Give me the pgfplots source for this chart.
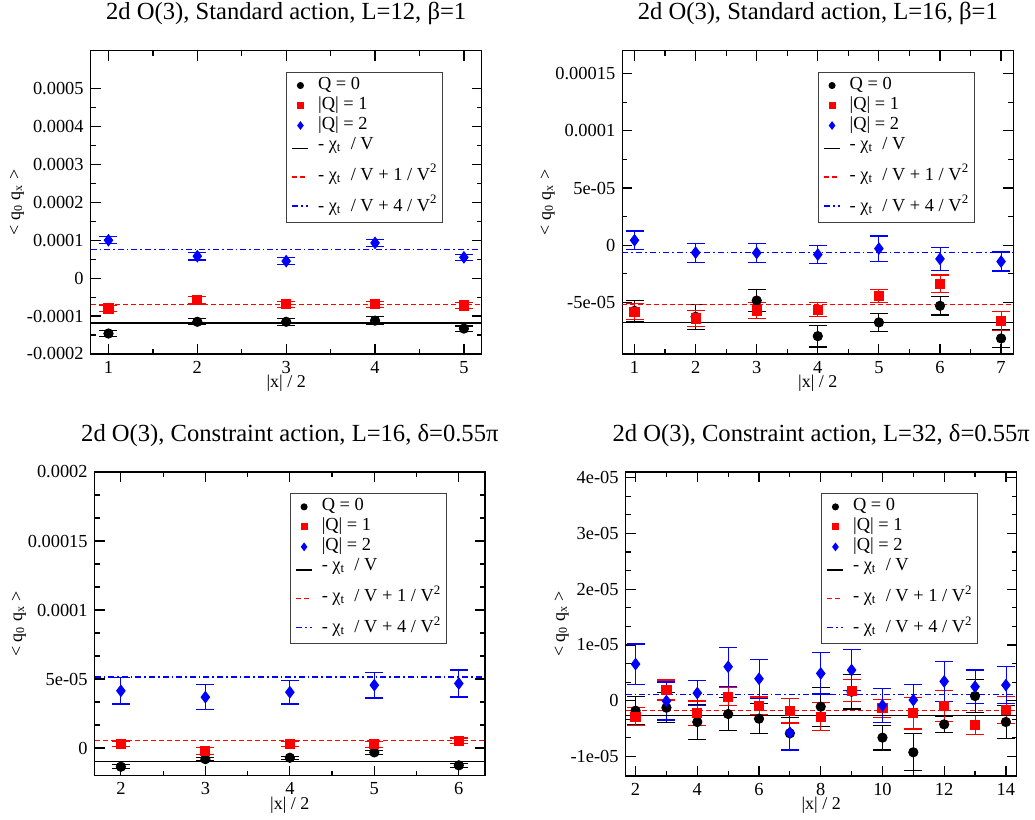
\documentclass[border=0pt]{standalone}
\usepackage{fontspec}
\setmainfont{Liberation Serif}
\usepackage{pgfplots}
\pgfplotsset{compat=1.18}

\newcommand{\ylab}{< q\textsubscript{0} q\textsubscript{x} >}
\newcommand{\chit}{- χ\textsubscript{t}\ \ / V}

\pgfplotsset{
 myaxis/.style={
  scale only axis,
  axis line style={line width=0.75pt},
  every tick/.style={black, line width=0.6pt},
  major tick length=5pt, minor tick length=2.5pt,
  tick align=inside,
  /pgf/number format/assume math mode=true,
  tick label style={font=\fontsize{9.2}{11}\selectfont},
  label style={font=\fontsize{9}{11}\selectfont},
  every axis title/.style={font=\fontsize{12.3}{14}\selectfont, at={(0.5,1)}, anchor=base, yshift=15.5pt},
  xlabel={|x| / 2},
  xlabel style={at={(0.5,0)}, anchor=base, yshift=-16.8pt},
  ylabel={\ylab},
  scaled ticks=false,
  minor x tick num=1,
  legend style={at={(0.5,0.93)}, anchor=north west, draw=black!75, line width=0.6pt,
    font=\fontsize{9.2}{11}\selectfont, inner xsep=2.5pt, inner ysep=1.5pt,
    nodes={inner sep=0pt, text depth={}}, row sep=0pt,
    /tikz/every odd column/.append style={column sep=4.5pt}},
  legend cell align=left,
 },
 mk/.style={only marks, line width=0.5pt,
   error bars/.cd, y dir=both, y explicit,
   error mark options={rotate=90, mark size=4.5pt, line width=0.6pt},
   /pgfplots/.cd},
 q0/.style={mk, black, mark=*, mark size=2.3pt,
   legend image code/.code={\draw[mark repeat=2,mark phase=2,##1, mark size=1.5pt] plot coordinates {(0pt,0pt)(4pt,0pt)(8pt,0pt)};}},
 q1/.style={mk, red, mark=square*, mark size=2.3pt,
   legend image code/.code={\draw[mark repeat=2,mark phase=2,##1, mark size=1.5pt] plot coordinates {(0pt,0pt)(4pt,0pt)(8pt,0pt)};}},
 q2/.style={mk, blue, mark=diamond*, mark size=2.8pt,
   legend image code/.code={\draw[mark repeat=2,mark phase=2,##1, mark size=1.8pt] plot coordinates {(0pt,0pt)(4pt,0pt)(8pt,0pt)};}},
 ln/.style={no marks, line width=0.65pt, legend image code/.code={\draw[##1] (0pt,0pt) -- (8pt,0pt);}},
 l0/.style={ln, black},
 l1/.style={ln, red, dash pattern=on 2.5pt off 1.5pt},
 l2/.style={ln, blue, dash pattern=on 3pt off 1.5pt on 0.8pt off 1.5pt},
}

\newcommand{\mylegend}{%
\legend{\rule[-3pt]{0pt}{10pt}Q = 0,
\rule[-3pt]{0pt}{10pt}|Q| = 1,
\rule[-3pt]{0pt}{10pt}|Q| = 2,
\rule[-6pt]{0pt}{13pt}\chit,
\rule[-6pt]{0pt}{15.5pt}\chit\ + 1 / V\textsuperscript{2},
\rule[-4pt]{0pt}{13.5pt}\chit\ + 4 / V\textsuperscript{2}}}

\begin{document}
\begin{tikzpicture}
\path[use as bounding box] (0,0) rectangle (517.5pt,-410pt);

% Panel 1
\begin{axis}[myaxis, at={(45.35pt,-25.35pt)}, anchor=north west,
  width=195.5pt, height=151.65pt,
  xmin=0.8, xmax=5.2, ymin=-0.0002, ymax=0.0006,
  xtick={1,2,3,4,5},
  ytick={-0.0002,-0.0001,0,0.0001,0.0002,0.0003,0.0004,0.0005},
  yticklabels={-0.0002,-0.0001,0,0.0001,0.0002,0.0003,0.0004,0.0005},
  minor y tick num=1,
  title={2d O(3), Standard action, L=12, β=1},
  ylabel style={at={(-0.1885,0.5)}, anchor=center}]
\addplot[q0] coordinates {(1,-1.46e-4) +- (0,8e-6) (2,-1.15e-4) +- (0,8e-6) (3,-1.15e-4) +- (0,9e-6) (4,-1.12e-4) +- (0,1e-5) (5,-1.33e-4) +- (0,7e-6)};
\addplot[q1] coordinates {(1,-0.80e-4) +- (0,8e-6) (2,-0.58e-4) +- (0,1e-5) (3,-0.69e-4) +- (0,8e-6) (4,-0.69e-4) +- (0,8e-6) (5,-0.72e-4) +- (0,7e-6)};
\addplot[q2] coordinates {(1,1.0e-4) +- (0,9e-6) (2,0.58e-4) +- (0,1e-5) (3,0.45e-4) +- (0,9e-6) (4,0.93e-4) +- (0,9e-6) (5,0.55e-4) +- (0,8e-6)};
\addplot[l0] coordinates {(0.8,-1.18e-4) (5.2,-1.18e-4)};
\addplot[l1] coordinates {(0.8,-0.698e-4) (5.2,-0.698e-4)};
\addplot[l2] coordinates {(0.8,0.749e-4) (5.2,0.749e-4)};
\mylegend
\end{axis}

% Panel 2
\begin{axis}[myaxis, at={(311.15pt,-25.35pt)}, anchor=north west,
  width=195.5pt, height=151.65pt,
  xmin=0.8, xmax=7.2, ymin=-9.5e-5, ymax=1.7e-4,
  xtick={1,2,3,4,5,6,7},
  ytick={-5e-5,0,5e-5,1e-4,1.5e-4},
  yticklabels={-5e-05,0,5e-05,0.0001,0.00015},
  minor y tick num=1,
  title={2d O(3), Standard action, L=16, β=1},
  ylabel style={at={(-0.191,0.5)}, anchor=center}]
\addplot[q0] coordinates {(1,-5.73e-5) +- (0,0.94e-5) (2,-6.25e-5) +- (0,1.09e-5) (3,-4.83e-5) +- (0,0.94e-5) (4,-7.94e-5) +- (0,0.94e-5) (5,-6.74e-5) +- (0,0.8e-5) (6,-5.29e-5) +- (0,0.8e-5) (7,-8.14e-5) +- (0,0.8e-5)};
\addplot[q1] coordinates {(1,-5.81e-5) +- (0,0.7e-5) (2,-6.40e-5) +- (0,0.73e-5) (3,-5.70e-5) +- (0,0.73e-5) (4,-5.64e-5) +- (0,0.61e-5) (5,-4.45e-5) +- (0,0.58e-5) (6,-3.37e-5) +- (0,0.77e-5) (7,-6.60e-5) +- (0,0.84e-5)};
\addplot[q2] coordinates {(1,0.44e-5) +- (0,0.81e-5) (2,-0.64e-5) +- (0,0.83e-5) (3,-0.67e-5) +- (0,0.86e-5) (4,-0.81e-5) +- (0,0.81e-5) (5,-0.29e-5) +- (0,1.1e-5) (6,-1.19e-5) +- (0,1.0e-5) (7,-1.42e-5) +- (0,0.83e-5)};
\addplot[l0] coordinates {(0.8,-6.72e-5) (7.2,-6.72e-5)};
\addplot[l1] coordinates {(0.8,-5.19e-5) (7.2,-5.19e-5)};
\addplot[l2] coordinates {(0.8,-0.62e-5) (7.2,-0.62e-5)};
\mylegend
\end{axis}

% Panel 3
\begin{axis}[myaxis, at={(47.35pt,-236pt)}, anchor=north west,
  width=195.15pt, height=151.85pt,
  xmin=1.69, xmax=6.31, ymin=-2e-5, ymax=2e-4,
  xtick={2,3,4,5,6},
  ytick={0,5e-5,1e-4,1.5e-4,2e-4},
  yticklabels={0,5e-05,0.0001,0.00015,0.0002},
  minor y tick num=2,
  title={2d O(3), Constraint action, L=16, δ=0.55π},
  ylabel style={at={(-0.194,0.5)}, anchor=center}]
\addplot[q0] coordinates {(2,-1.35e-5) +- (0,0.15e-5) (3,-0.80e-5) +- (0,0.12e-5) (4,-0.70e-5) +- (0,0.12e-5) (5,-0.31e-5) +- (0,0.15e-5) (6,-1.25e-5) +- (0,0.15e-5)};
\addplot[q1] coordinates {(2,0.31e-5) +- (0,0.2e-5) (3,-0.19e-5) +- (0,0.25e-5) (4,0.29e-5) +- (0,0.2e-5) (5,0.27e-5) +- (0,0.2e-5) (6,0.53e-5) +- (0,0.2e-5)};
\addplot[q2] coordinates {(2,4.15e-5) +- (0,0.95e-5) (3,3.69e-5) +- (0,0.9e-5) (4,4.05e-5) +- (0,0.86e-5) (5,4.56e-5) +- (0,0.93e-5) (6,4.68e-5) +- (0,0.98e-5)};
\addplot[l0] coordinates {(1.69,-0.95e-5) (6.31,-0.95e-5)};
\addplot[l1] coordinates {(1.69,0.57e-5) (6.31,0.57e-5)};
\addplot[l2] coordinates {(1.69,5.15e-5) (6.31,5.15e-5)};
\mylegend
\end{axis}

% Panel 4
\begin{axis}[myaxis, at={(312.85pt,-236pt)}, anchor=north west,
  width=195.5pt, height=152pt,
  xmin=1.68, xmax=14.35, ymin=-1.35e-5, ymax=4.1e-5,
  xtick={2,4,6,8,10,12,14},
  ytick={-1e-5,0,1e-5,2e-5,3e-5,4e-5},
  yticklabels={-1e-05,0,1e-05,2e-05,3e-05,4e-05},
  minor y tick num=2,
  title={2d O(3), Constraint action, L=32, δ=0.55π},
  ylabel style={at={(-0.164,0.5)}, anchor=center}]
\addplot[q0] coordinates {(2,-0.179e-5) +- (0,0.25e-5) (3,-0.125e-5) +- (0,0.27e-5) (4,-0.382e-5) +- (0,0.31e-5) (5,-0.239e-5) +- (0,0.30e-5) (6,-0.322e-5) +- (0,0.27e-5) (7,-0.585e-5) +- (0,0.29e-5) (8,-0.107e-5) +- (0,0.35e-5) (9,0.161e-5) +- (0,0.31e-5) (10,-0.662e-5) +- (0,0.22e-5) (11,-0.925e-5) +- (0,0.33e-5) (12,-0.424e-5) +- (0,0.14e-5) (13,0.084e-5) +- (0,0.3e-5) (14,-0.382e-5) +- (0,0.3e-5)};
\addplot[q1] coordinates {(2,-0.286e-5) +- (0,0.16e-5) (3,0.191e-5) +- (0,0.18e-5) (4,-0.227e-5) +- (0,0.22e-5) (5,0.072e-5) +- (0,0.16e-5) (6,-0.095e-5) +- (0,0.16e-5) (7,-0.179e-5) +- (0,0.22e-5) (8,-0.286e-5) +- (0,0.25e-5) (9,0.179e-5) +- (0,0.2e-5) (10,-0.137e-5) +- (0,0.16e-5) (11,-0.227e-5) +- (0,0.28e-5) (12,-0.095e-5) +- (0,0.28e-5) (13,-0.436e-5) +- (0,0.17e-5) (14,-0.167e-5) +- (0,0.24e-5)};
\addplot[q2] coordinates {(2,0.656e-5) +- (0,0.36e-5) (3,-0.006e-5) +- (0,0.34e-5) (4,0.137e-5) +- (0,0.22e-5) (5,0.609e-5) +- (0,0.35e-5) (6,0.394e-5) +- (0,0.35e-5) (7,-0.573e-5) +- (0,0.31e-5) (8,0.489e-5) +- (0,0.37e-5) (9,0.549e-5) +- (0,0.37e-5) (10,-0.084e-5) +- (0,0.31e-5) (11,0.012e-5) +- (0,0.28e-5) (12,0.346e-5) +- (0,0.36e-5) (13,0.251e-5) +- (0,0.30e-5) (14,0.28e-5) +- (0,0.33e-5)};
\addplot[l0] coordinates {(1.68,-0.263e-5) (14.35,-0.263e-5)};
\addplot[l1] coordinates {(1.68,-0.17e-5) (14.35,-0.17e-5)};
\addplot[l2] coordinates {(1.68,0.11e-5) (14.35,0.11e-5)};
\mylegend
\end{axis}
\end{tikzpicture}
\end{document}
